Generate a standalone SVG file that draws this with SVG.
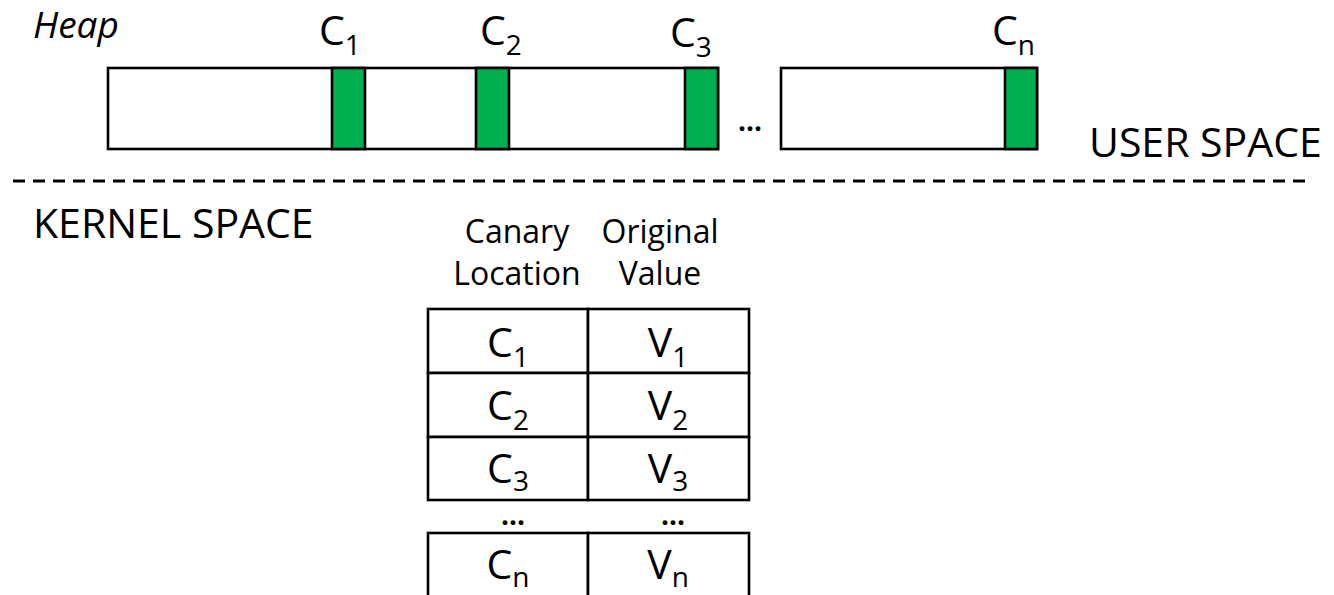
<svg xmlns="http://www.w3.org/2000/svg" width="1334" height="595" viewBox="0 0 1334 595">
  <style>
    text { font-family: "Open Sans", "Noto Sans", "Liberation Sans", sans-serif; fill: #000; }
    .big { font-size: 41px; }
    .head { font-size: 32px; text-anchor: middle; }
    .sub { font-size: 28px; }
    .dots { font-weight: bold; font-size: 28px; }
    .cell { fill: #fff; stroke: #000; stroke-width: 2.6; }
    .canary { fill: #00B050; stroke: #000; stroke-width: 2.6; }
    .mid { text-anchor: middle; }
  </style>

  <rect width="1334" height="595" fill="#fff"/>

  <!-- user-space heap -->
  <g id="heap">
    <text x="33" y="38" style="font-size:37px;font-style:italic">Heap</text>
    <rect class="cell" x="108" y="68" width="610" height="81"/>
    <rect class="canary" x="332" y="68" width="33" height="81"/>
    <rect class="canary" x="476" y="68" width="33" height="81"/>
    <rect class="canary" x="685" y="68" width="33" height="81"/>
    <text class="dots" x="738" y="131">...</text>
    <rect class="cell" x="781" y="68" width="256" height="81"/>
    <rect class="canary" x="1005" y="68" width="32" height="81"/>
  </g>

  <g id="heap-labels">
    <text class="big" x="319" y="45">C<tspan class="sub" dy="10">1</tspan></text>
    <text class="big" x="480" y="45">C<tspan class="sub" dy="10">2</tspan></text>
    <text class="big" x="670" y="47">C<tspan class="sub" dy="10">3</tspan></text>
    <text class="big" x="992" y="45">C<tspan class="sub" dy="10">n</tspan></text>
  </g>

  <!-- user/kernel boundary -->
  <g id="boundary">
    <line x1="13" y1="181" x2="1312" y2="181" stroke="#000" stroke-width="3" stroke-dasharray="12 8"/>
    <text class="big" x="1089" y="157">USER SPACE</text>
    <text class="big" x="33" y="238">KERNEL SPACE</text>
  </g>

  <!-- kernel canary table -->
  <g id="table-header">
    <text class="head" x="517" y="243">Canary</text>
    <text class="head" x="517" y="285">Location</text>
    <text class="head" x="660" y="243">Original</text>
    <text class="head" x="660" y="285">Value</text>
  </g>

  <g id="row-1">
    <rect class="cell" x="428" y="309" width="160" height="64"/>
    <rect class="cell" x="588" y="309" width="161" height="64"/>
    <text class="big mid" x="508" y="357">C<tspan class="sub" dy="10">1</tspan></text>
    <text class="big mid" x="668" y="357">V<tspan class="sub" dy="10">1</tspan></text>
  </g>
  <g id="row-2">
    <rect class="cell" x="428" y="373" width="160" height="64"/>
    <rect class="cell" x="588" y="373" width="161" height="64"/>
    <text class="big mid" x="508" y="420">C<tspan class="sub" dy="10">2</tspan></text>
    <text class="big mid" x="668" y="420">V<tspan class="sub" dy="10">2</tspan></text>
  </g>
  <g id="row-3">
    <rect class="cell" x="428" y="437" width="160" height="63"/>
    <rect class="cell" x="588" y="437" width="161" height="63"/>
    <text class="big mid" x="508" y="483">C<tspan class="sub" dy="8">3</tspan></text>
    <text class="big mid" x="668" y="483">V<tspan class="sub" dy="8">3</tspan></text>
  </g>
  <g id="row-gap">
    <text class="dots mid" x="513" y="525">...</text>
    <text class="dots mid" x="673" y="525">...</text>
  </g>
  <g id="row-n">
    <rect class="cell" x="428" y="533" width="160" height="80"/>
    <rect class="cell" x="588" y="533" width="161" height="80"/>
    <text class="big mid" x="508" y="579">C<tspan class="sub" dy="8">n</tspan></text>
    <text class="big mid" x="668" y="579">V<tspan class="sub" dy="8">n</tspan></text>
  </g>
</svg>
